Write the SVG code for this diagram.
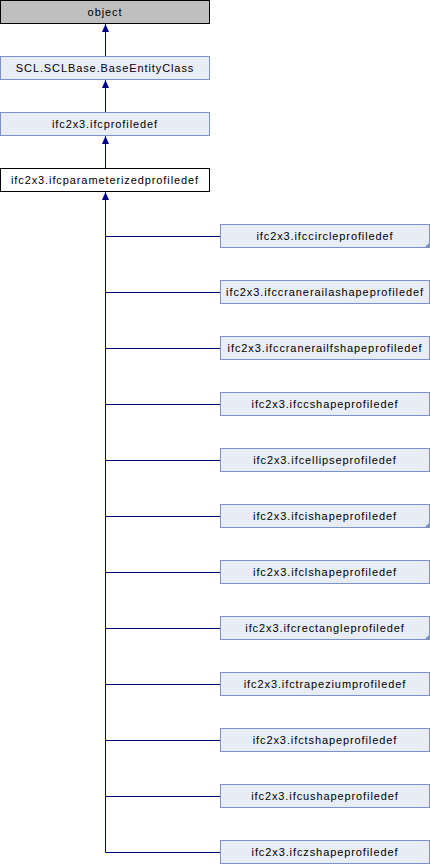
<svg xmlns="http://www.w3.org/2000/svg" width="430" height="864" viewBox="0 0 430 864">
<defs>
<style>
text{font-family:"Liberation Sans",Arial,Helvetica,sans-serif;font-size:11px;letter-spacing:0.9px;fill:#000;text-anchor:middle}
.n rect{fill:#E8ECF5;stroke:#7B93C8;stroke-width:1}
.c{fill:#7B93C8}
.e{stroke:#000080;stroke-width:1;fill:none}
</style>
<marker id="a" markerWidth="8" markerHeight="8" viewBox="0 0 8 8" refX="8" refY="4" orient="auto" markerUnits="userSpaceOnUse">
<path d="M0,0.5 L8,4 L0,7.5 Z" fill="#000080"/>
</marker>
</defs>
<g id="edges">
<path class="e" d="M105.5,56 V24" marker-end="url(#a)"/>
<path class="e" d="M105.5,112 V80" marker-end="url(#a)"/>
<path class="e" d="M105.5,168 V136" marker-end="url(#a)"/>
<path class="e" d="M105.5,852.5 V192" marker-end="url(#a)"/>
<path class="e" d="M105.5,236.5 H220 M105.5,292.5 H220 M105.5,348.5 H220 M105.5,404.5 H220 M105.5,460.5 H220 M105.5,516.5 H220 M105.5,572.5 H220 M105.5,628.5 H220 M105.5,684.5 H220 M105.5,740.5 H220 M105.5,796.5 H220 M105.5,852.5 H220"/>
</g>
<g id="object"><rect x="0.5" y="0.5" width="209" height="23" fill="#BFBFBF" stroke="#000"/><text x="105" y="16">object</text></g>
<g id="base" class="n"><rect x="0.5" y="56.5" width="209" height="23"/><text x="105" y="72">SCL.SCLBase.BaseEntityClass</text></g>
<g id="profiledef" class="n"><rect x="0.5" y="112.5" width="209" height="23"/><text x="105" y="128">ifc2x3.ifcprofiledef</text></g>
<g id="param"><rect x="0.5" y="168.5" width="209" height="23" fill="#fff" stroke="#000"/><text x="105" y="184">ifc2x3.ifcparameterizedprofiledef</text></g>
<g id="circle" class="n"><rect x="220.5" y="224.5" width="209" height="23"/><path class="c" d="M430,242 V248 H424 Z"/><text x="325" y="240">ifc2x3.ifccircleprofiledef</text></g>
<g id="craneraila" class="n"><rect x="220.5" y="280.5" width="209" height="23"/><text x="325" y="296">ifc2x3.ifccranerailashapeprofiledef</text></g>
<g id="cranerailf" class="n"><rect x="220.5" y="336.5" width="209" height="23"/><text x="325" y="352">ifc2x3.ifccranerailfshapeprofiledef</text></g>
<g id="cshape" class="n"><rect x="220.5" y="392.5" width="209" height="23"/><text x="325" y="408">ifc2x3.ifccshapeprofiledef</text></g>
<g id="ellipse" class="n"><rect x="220.5" y="448.5" width="209" height="23"/><text x="325" y="464">ifc2x3.ifcellipseprofiledef</text></g>
<g id="ishape" class="n"><rect x="220.5" y="504.5" width="209" height="23"/><path class="c" d="M430,522 V528 H424 Z"/><text x="325" y="520">ifc2x3.ifcishapeprofiledef</text></g>
<g id="lshape" class="n"><rect x="220.5" y="560.5" width="209" height="23"/><text x="325" y="576">ifc2x3.ifclshapeprofiledef</text></g>
<g id="rectangle" class="n"><rect x="220.5" y="616.5" width="209" height="23"/><path class="c" d="M430,634 V640 H424 Z"/><text x="325" y="632">ifc2x3.ifcrectangleprofiledef</text></g>
<g id="trapezium" class="n"><rect x="220.5" y="672.5" width="209" height="23"/><text x="325" y="688">ifc2x3.ifctrapeziumprofiledef</text></g>
<g id="tshape" class="n"><rect x="220.5" y="728.5" width="209" height="23"/><text x="325" y="744">ifc2x3.ifctshapeprofiledef</text></g>
<g id="ushape" class="n"><rect x="220.5" y="784.5" width="209" height="23"/><text x="325" y="800">ifc2x3.ifcushapeprofiledef</text></g>
<g id="zshape" class="n"><rect x="220.5" y="840.5" width="209" height="23"/><text x="325" y="856">ifc2x3.ifczshapeprofiledef</text></g>
</svg>
